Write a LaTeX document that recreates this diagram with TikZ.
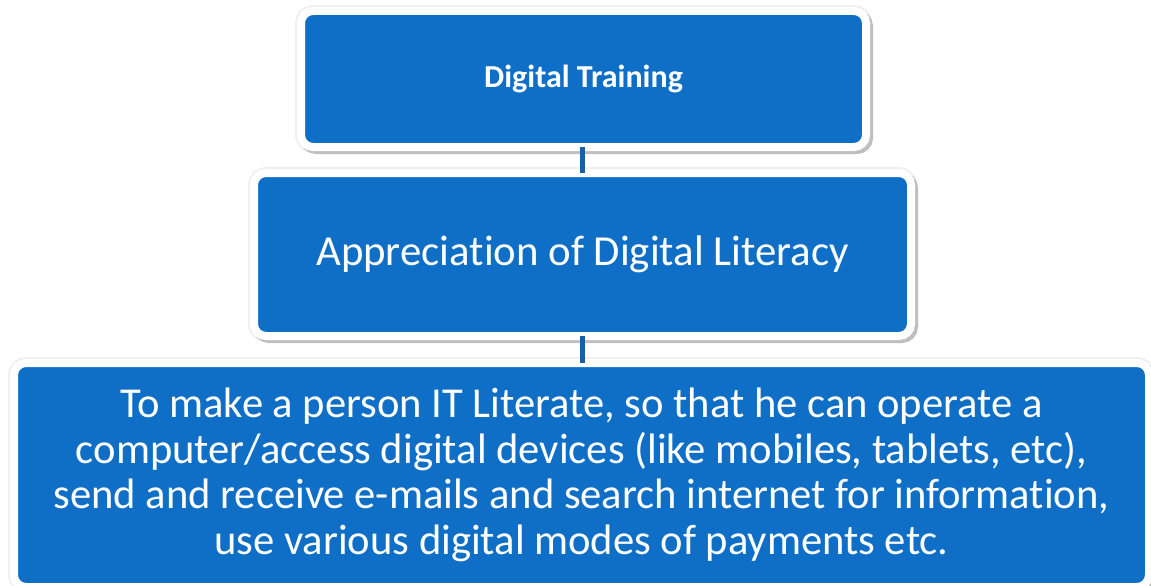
\documentclass[tikz,border=0pt]{standalone}
\usepackage{fontspec}
\setmainfont{Carlito}[Ligatures=CommonOff]
\definecolor{boxblue}{HTML}{0F6FC6}
\definecolor{linkblue}{HTML}{1A5EA8}
\begin{document}
\begin{tikzpicture}[x=1pt,y=-1pt,
  box/.style={rectangle, rounded corners=12pt, fill=boxblue, draw=white, line width=8pt,
    outer sep=0pt, inner sep=0pt, text=white, align=center,
    preaction={draw=gray!12, line width=12pt},
    preaction={draw=gray!50, fill=gray!50, line width=8pt, transform canvas={shift={(3pt,-3pt)}}}},
  link/.style={draw=linkblue, line width=5pt}]
\useasboundingbox (0,0) rectangle (1151,586);
\node[box, minimum width=565pt, minimum height=136pt, font=\fontsize{32}{38}\selectfont\bfseries] (t) at (583.5,79) {Digital Training};
\node[box, minimum width=657pt, minimum height=163pt, font=\fontsize{42.8}{50}\selectfont] (m) at (582.5,254.5) {Appreciation of Digital Literacy};
\node[box, minimum width=1135pt, minimum height=224pt, font=\fontsize{42.6}{45.5}\selectfont] (b) at (581.5,475) {To make a person IT Literate, so that he can operate a\\computer/access digital devices (like mobiles, tablets, etc),\\send and receive e-mails and search internet for information,\\use various digital modes of payments etc.};
\draw[link] ([xshift=-1pt]t.south) -- ([xshift=-1pt]t.south |- m.north);
\draw[link] ([xshift=-0.5pt]m.south) -- ([xshift=-0.5pt]m.south |- b.north);
\end{tikzpicture}
\end{document}
